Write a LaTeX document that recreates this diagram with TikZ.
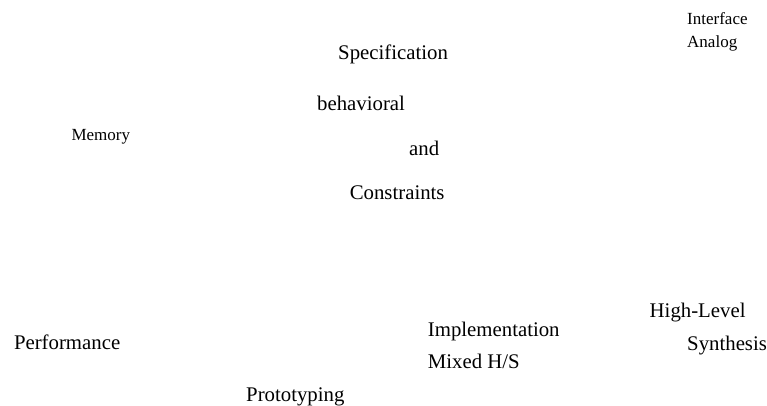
\documentclass[tikz,border=0pt]{standalone}
\usepackage{fontspec}
\setmainfont{Liberation Serif}
\begin{document}
\begin{tikzpicture}[x=1pt,y=-1pt,
  big/.style={inner sep=0pt,anchor=base west,font=\fontsize{20.8}{25}\selectfont},
  small/.style={inner sep=0pt,anchor=base west,font=\fontsize{17}{20}\selectfont}]
\useasboundingbox[fill=white] (0,0) rectangle (767,406);
\node[small] (iface) at (687,25) {Interface};
\node[small] (analog) at (687,47.7) {Analog};
\node[big] (spec) at (338,59.3) {Specification};
\node[big] (behav) at (317,111) {behavioral};
\node[small] (mem) at (71.3,140.7) {Memory};
\node[big] (and) at (409,156) {and};
\node[big] (constr) at (349.6,199.3) {Constraints};
\node[big] (hl) at (649.5,317.7) {High-Level};
\node[big] (impl) at (427.7,336.7) {Implementation};
\node[big] (perf) at (13.8,349.3) {Performance};
\node[big] (synth) at (687,350) {Synthesis};
\node[big] (mixed) at (427.7,368.3) {Mixed H/S};
\node[big] (proto) at (246,401.7) {Prototyping};
\end{tikzpicture}
\end{document}
